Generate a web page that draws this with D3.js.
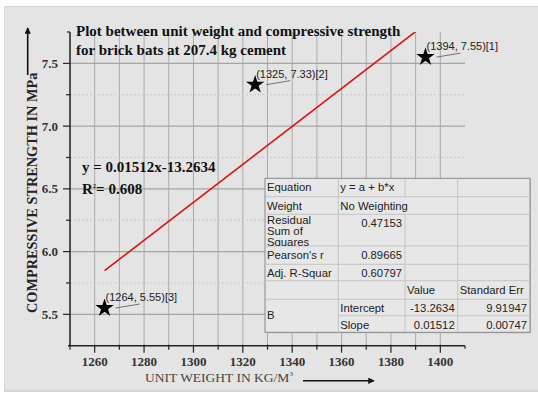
<!DOCTYPE html>
<html>
<head>
<meta charset="utf-8">
<script src="https://cdn.jsdelivr.net/npm/d3@7"></script>
<style>
  html, body { margin: 0; padding: 0; background: #fff; }
  svg { display: block; }
</style>
</head>
<body>
<svg id="chart" width="538" height="393"></svg>
<script>
// data
const pointX = [1394, 1325, 1264]
const pointY = [7.55, 7.33, 5.55]
const pointTags = ['[1]', '[2]', '[3]']
const fitIntercept = -13.2634
const fitSlope = 0.01512
const fitR2 = 0.608
const xTickLabels = [1260, 1280, 1300, 1320, 1340, 1360, 1380, 1400]
const yTickLabels = [5.5, 6.0, 6.5, 7.0, 7.5]
const titleLines = ['Plot between unit weight and compressive strength', 'for brick bats at 207.4 kg cement']
const tableRows = [
  ['Equation', 'y = a + b*x', '', ''],
  ['Weight', 'No Weighting', '', ''],
  ['Residual\nSum of\nSquares', '0.47153', '', ''],
  ["Pearson's r", '0.89665', '', ''],
  ['Adj. R-Squar', '0.60797', '', ''],
  ['', '', 'Value', 'Standard Err'],
  ['B', 'Intercept', '-13.2634', '9.91947'],
  ['', 'Slope', '0.01512', '0.00747']
]

const svg = d3.select('#chart')
const serif = "'Liberation Serif', 'Times New Roman', serif"
const sans = "'Liberation Sans', Arial, sans-serif"

// panel
svg.append('rect').attr('x', 4).attr('y', 6).attr('width', 540).attr('height', 386).attr('fill', '#d6d6d6')
svg.append('rect').attr('x', 5).attr('y', 7).attr('width', 540).attr('height', 383).attr('fill', '#e4e4e4')

const x = d3.scaleLinear().domain([1250, 1410]).range([70, 465])
const y = d3.scaleLinear().domain([5.25, 7.75]).range([345.7, 32])

const defs = svg.append('defs')
defs.append('clipPath').attr('id', 'plotClip').append('rect')
  .attr('x', x(1250)).attr('y', y(7.75)).attr('width', x(1410) - x(1250)).attr('height', y(5.25) - y(7.75))
defs.append('marker').attr('id', 'arrowHead')
  .attr('viewBox', '0 0 10 10').attr('refX', 9).attr('refY', 5)
  .attr('markerWidth', 4).attr('markerHeight', 4).attr('orient', 'auto')
  .append('path').attr('d', 'M0,0L10,5L0,10z').attr('fill', '#111')

// grid
const grid = svg.append('g')
const xGridVals = d3.range(1260, 1401, 10)
grid.selectAll('line.vg').data(xGridVals).join('line')
  .attr('x1', d => x(d)).attr('x2', d => x(d))
  .attr('y1', y(7.75)).attr('y2', y(5.25))
  .attr('stroke', '#aaaaaa').attr('stroke-width', 1)
const yGridVals = d3.range(5.5, 7.6, 0.25)
grid.selectAll('line.hg').data(yGridVals).join('line')
  .attr('x1', x(1250)).attr('x2', x(1410))
  .attr('y1', d => y(d)).attr('y2', d => y(d))
  .attr('stroke', (d, i) => i % 2 === 0 ? '#a4a4a4' : '#cacaca')
  .attr('stroke-dasharray', (d, i) => i % 2 === 0 ? null : '2,2')
  .attr('stroke-width', (d, i) => i % 2 === 0 ? 1.2 : 1)

// regression line
const fitLine = d3.line().x(d => x(d)).y(d => y(fitIntercept + fitSlope * d))
svg.append('path')
  .datum([d3.min(pointX), d3.max(pointX)])
  .attr('d', fitLine)
  .attr('clip-path', 'url(#plotClip)')
  .attr('fill', 'none').attr('stroke', '#e01010').attr('stroke-width', 1.6)

// axes
const axisColor = '#222'
const axes = svg.append('g')
axes.append('line').attr('x1', x(1250) - 2).attr('x2', x(1410)).attr('y1', y(5.25)).attr('y2', y(5.25))
  .attr('stroke', axisColor).attr('stroke-width', 1.5)
axes.append('line').attr('x1', x(1250)).attr('x2', x(1250)).attr('y1', y(7.75)).attr('y2', y(5.25))
  .attr('stroke', axisColor).attr('stroke-width', 1.5)
axes.append('line').attr('x1', x(1250)).attr('x2', x(1250) - 3).attr('y1', y(7.75)).attr('y2', y(7.75))
  .attr('stroke', axisColor).attr('stroke-width', 1.2)
axes.append('line').attr('x1', x(1410)).attr('x2', x(1410)).attr('y1', y(5.25)).attr('y2', y(5.25) + 3)
  .attr('stroke', axisColor).attr('stroke-width', 1.2)

const xTickVals = d3.range(1250, 1401, 10)
axes.selectAll('line.xt').data(xTickVals).join('line')
  .attr('x1', d => x(d)).attr('x2', d => x(d))
  .attr('y1', y(5.25) - 1).attr('y2', d => y(5.25) + ((d - 1260) % 20 === 0 ? 7 : 4))
  .attr('stroke', axisColor).attr('stroke-width', 1.2)
const yTickVals = d3.range(5.5, 7.6, 0.25)
axes.selectAll('line.yt').data(yTickVals).join('line')
  .attr('y1', d => y(d)).attr('y2', d => y(d))
  .attr('x1', x(1250)).attr('x2', (d, i) => x(1250) - (i % 2 === 0 ? 7 : 4))
  .attr('stroke', axisColor).attr('stroke-width', 1.2)

axes.selectAll('text.xl').data(xTickLabels).join('text')
  .attr('x', d => x(d)).attr('y', 366)
  .attr('text-anchor', 'middle')
  .attr('font-family', serif).attr('font-weight', 'bold').attr('font-size', '13px').attr('fill', '#333')
  .text(d => d)
axes.selectAll('text.yl').data(yTickLabels).join('text')
  .attr('x', 58).attr('y', d => y(d)).attr('dy', '0.35em')
  .attr('text-anchor', 'end')
  .attr('font-family', serif).attr('font-weight', 'bold').attr('font-size', '13px').attr('fill', '#333')
  .text(d => d.toFixed(1))

// axis titles
svg.append('text')
  .attr('transform', 'translate(36.5,313) rotate(-90)')
  .attr('font-family', serif).attr('font-weight', 'bold').attr('font-size', '14.3px').attr('fill', '#222')
  .text('COMPRESSIVE STRENGTH IN MPa')
svg.append('line').attr('x1', 27.7).attr('x2', 27.7).attr('y1', 75).attr('y2', 28)
  .attr('stroke', '#111').attr('stroke-width', 1.6).attr('marker-end', 'url(#arrowHead)')

const xTitle = svg.append('text')
  .attr('x', 145).attr('y', 382)
  .attr('font-family', serif).attr('font-size', '13.5px').attr('fill', '#444')
xTitle.append('tspan').text('UNIT WEIGHT IN KG/M')
xTitle.append('tspan').attr('dy', -6).attr('font-size', '7px').text('3')
svg.append('line').attr('x1', 303).attr('x2', 374).attr('y1', 380.7).attr('y2', 380.7)
  .attr('stroke', '#111').attr('stroke-width', 1.6).attr('marker-end', 'url(#arrowHead)')

// title
svg.selectAll('text.title').data(titleLines).join('text')
  .attr('x', 76).attr('y', (d, i) => 35.5 + i * 19.2)
  .attr('font-family', serif).attr('font-weight', 'bold').attr('font-size', '15px').attr('fill', '#111')
  .text(d => d)

// fit equation
svg.append('text').attr('x', 82).attr('y', 172)
  .attr('font-family', serif).attr('font-weight', 'bold').attr('font-size', '15px').attr('fill', '#111')
  .text(`y = ${fitSlope}x${fitIntercept}`)
const r2 = svg.append('text').attr('x', 82).attr('y', 193.5)
  .attr('font-family', serif).attr('font-weight', 'bold').attr('font-size', '15px').attr('fill', '#111')
r2.append('tspan').text('R')
r2.append('tspan').attr('dy', -6).attr('font-size', '6.5px').text('2')
r2.append('tspan').attr('dy', 6).text(`= ${fitR2}`)

// points and labels
const points = pointX.map((v, i) => ({ x: v, y: pointY[i], tag: pointTags[i] }))
const star = d3.symbol().type(d3.symbolStar).size(105)
const pg = svg.append('g')
pg.selectAll('path.star').data(points).join('path')
  .attr('transform', d => `translate(${x(d.x)},${y(d.y)})`)
  .attr('d', star).attr('fill', '#000')
pg.selectAll('line.lead').data(points).join('line')
  .attr('x1', d => x(d.x) + 11).attr('y1', d => y(d.y))
  .attr('x2', d => x(d.x) + 35).attr('y2', d => y(d.y) - 4)
  .attr('stroke', '#555').attr('stroke-width', 0.8)
pg.selectAll('text.lab').data(points).join('text')
  .attr('x', d => x(d.x) + 1).attr('y', d => y(d.y) - 7)
  .attr('font-family', sans).attr('font-size', '11px').attr('fill', '#222')
  .text(d => `(${d.x}, ${d.y})${d.tag}`)

// parameter table
const colX = [265, 338.3, 405, 457.7, 530]
const rowY = [178.3, 196.7, 214.3, 246, 264.3, 280.7, 299.3, 315.7, 332.3]
const tbl = svg.append('g')
tbl.append('rect').attr('x', colX[0] + 1).attr('y', rowY[0] + 1)
  .attr('width', colX[4] - colX[0]).attr('height', rowY[8] - rowY[0]).attr('fill', '#bdbdbd')
tbl.append('rect').attr('x', colX[0]).attr('y', rowY[0])
  .attr('width', colX[4] - colX[0]).attr('height', rowY[8] - rowY[0])
  .attr('fill', '#e7e7e7').attr('stroke', '#8a8a8a').attr('stroke-width', 1)

const inner = '#c4c4c4'
// horizontal rules
rowY.slice(1, 8).forEach((ry, i) => {
  const startX = (i + 1) === 7 ? colX[1] : colX[0]
  tbl.append('line').attr('x1', startX).attr('x2', colX[4]).attr('y1', ry).attr('y2', ry)
    .attr('stroke', inner).attr('stroke-width', 1)
})
// vertical rules, row by row
for (let r = 0; r < 8; r++) {
  for (let c = 1; c < 4; c++) {
    if (r === 1 && c === 2) continue
    tbl.append('line').attr('x1', colX[c]).attr('x2', colX[c]).attr('y1', rowY[r]).attr('y2', rowY[r + 1])
      .attr('stroke', inner).attr('stroke-width', 1)
  }
}

tableRows.forEach((row, r) => {
  row.forEach((cell, c) => {
    if (!cell) return
    const clipId = `cell_${r}_${c}`
    defs.append('clipPath').attr('id', clipId).append('rect')
      .attr('x', colX[c]).attr('y', rowY[r]).attr('width', (c === 1 && r === 1 ? colX[3] : colX[c + 1]) - colX[c])
      .attr('height', (r === 6 && c === 0 ? rowY[8] : rowY[r + 1]) - rowY[r])
    const alignRight = (c === 1 && r >= 2 && r <= 4) || (c >= 2 && r >= 6)
    const lines = cell.split('\n')
    let baseY = rowY[r] + 13
    if (lines.length > 1) baseY = rowY[r] + 10
    if (r === 6 && c === 0) baseY = 319
    const t = tbl.append('text')
      .attr('clip-path', `url(#${clipId})`)
      .attr('font-family', sans).attr('font-size', '11.3px').attr('fill', '#222')
      .attr('text-anchor', alignRight ? 'end' : 'start')
    lines.forEach((ln, k) => {
      t.append('tspan')
        .attr('x', alignRight ? colX[c + 1] - 3 : colX[c] + 2)
        .attr('y', baseY + k * 11)
        .text(ln)
    })
  })
})
</script>
</body>
</html>
